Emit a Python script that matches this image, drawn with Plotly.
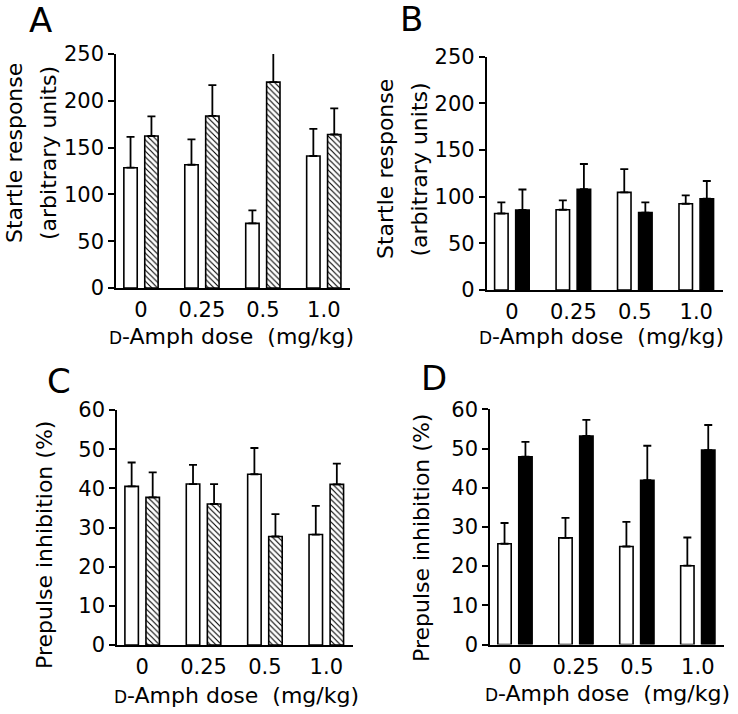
import plotly.graph_objects as go

W, H = 738, 714
FONT = "DejaVu Sans"

doses = ["0", "0.25", "0.5", "1.0"]

# Panel A: startle, saline (white) vs drug (hatched)
a_white = [128.5, 131.7, 69, 141]
a_white_err = [33, 27, 14, 29]
a_hatch = [162.4, 183.8, 220, 164]
a_hatch_err = [21, 33, 48, 28]

# Panel B: startle, white vs black
b_white = [82, 86, 104.6, 92.4]
b_white_err = [12, 10, 25, 9]
b_black = [85.7, 108, 83, 97.8]
b_black_err = [22, 27, 11, 19]

# Panel C: PPI, white vs hatched
c_white = [40.5, 41.1, 43.6, 28.2]
c_white_err = [6.1, 4.9, 6.7, 7.3]
c_hatch = [37.7, 36, 27.7, 41]
c_hatch_err = [6.4, 5.1, 5.7, 5.3]

# Panel D: PPI, white vs black
d_white = [25.7, 27.2, 25, 20.1]
d_white_err = [5.3, 5.1, 6.3, 7.2]
d_black = [47.9, 53.2, 41.9, 49.6]
d_black_err = [3.8, 4.1, 8.8, 6.4]

startle_ticks = [0, 50, 100, 150, 200, 250]
ppi_ticks = [0, 10, 20, 30, 40, 50, 60]

panels = [
    dict(letter="A", white=a_white, werr=a_white_err, second=a_hatch, serr=a_hatch_err, kind="hatch",
         dom_x=(116, 350), dom_y=(54, 288), yr=(0, 250), ticks=startle_ticks,
         ytitle=["Startle response", "(arbitrary units)"], yt_x=[14, 48], yt_y=153,
         xt_x=231, xt_y=336, let_xy=(40.5, 19.5)),
    dict(letter="B", white=b_white, werr=b_white_err, second=b_black, serr=b_black_err, kind="black",
         dom_x=(486.7, 722.7), dom_y=(56.7, 290), yr=(0, 250), ticks=startle_ticks,
         ytitle=["Startle response", "(arbitrary units)"], yt_x=[385, 418.5], yt_y=169,
         xt_x=601, xt_y=336, let_xy=(411.5, 19)),
    dict(letter="C", white=c_white, werr=c_white_err, second=c_hatch, serr=c_hatch_err, kind="hatch",
         dom_x=(117, 352.7), dom_y=(410, 645), yr=(0, 60), ticks=ppi_ticks,
         ytitle=["Prepulse inhibition (%)"], yt_x=[44], yt_y=545,
         xt_x=236, xt_y=695, let_xy=(58.5, 380.5)),
    dict(letter="D", white=d_white, werr=d_white_err, second=d_black, serr=d_black_err, kind="black",
         dom_x=(490, 724), dom_y=(409.3, 644.5), yr=(0, 60), ticks=ppi_ticks,
         ytitle=["Prepulse inhibition (%)"], yt_x=[421.5], yt_y=538.5,
         xt_x=607.5, xt_y=693, let_xy=(434, 377.5)),
]

fig = go.Figure()
annotations = []
LW = 1.6

def px(x):
    return x / W

def py(y):
    return 1 - y / H

for i, p in enumerate(panels):
    n = "" if i == 0 else str(i + 1)
    xa, ya = "x" + n, "y" + n
    err_style = dict(type="data", symmetric=False, thickness=1.8, width=4, color="black")
    fig.add_trace(go.Bar(
        x=doses, y=p["white"], xaxis=xa, yaxis=ya,
        marker=dict(color="white", line=dict(color="black", width=LW)),
        error_y=dict(array=p["werr"], arrayminus=[0] * 4, **err_style),
        offsetgroup="w", showlegend=False, cliponaxis=False,
    ))
    if p["kind"] == "hatch":
        mk = dict(color="white", line=dict(color="black", width=LW),
                  pattern=dict(shape="\\", fgcolor="black", bgcolor="white", size=4, solidity=0.28))
    else:
        mk = dict(color="black", line=dict(color="black", width=LW))
    fig.add_trace(go.Bar(
        x=doses, y=p["second"], xaxis=xa, yaxis=ya, marker=mk,
        error_y=dict(array=p["serr"], arrayminus=[0] * 4, **err_style),
        offsetgroup="s", showlegend=False, cliponaxis=False,
    ))
    fig.update_layout(**{
        "xaxis" + n: dict(
            domain=[px(p["dom_x"][0]), px(p["dom_x"][1])], anchor=ya, type="category",
            range=[-0.41, 3.43], showline=True, linecolor="black", linewidth=LW,
            ticks="outside", ticklen=2, tickcolor="rgba(0,0,0,0)", automargin=False,
            tickfont=dict(family=FONT, size=21, color="black"), showgrid=False, zeroline=False,
        ),
        "yaxis" + n: dict(
            domain=[py(p["dom_y"][1]), py(p["dom_y"][0])], anchor=xa, automargin=False,
            range=list(p["yr"]), tickvals=p["ticks"], showline=True, linecolor="black",
            linewidth=LW, ticks="outside", ticklen=6, tickwidth=LW, tickcolor="black",
            tickfont=dict(family=FONT, size=21, color="black"), showgrid=False, zeroline=False,
        ),
    })
    annotations.append(dict(text=p["letter"], x=px(p["let_xy"][0]), y=py(p["let_xy"][1]),
                            xref="paper", yref="paper", xanchor="center", yanchor="middle",
                            showarrow=False, font=dict(family=FONT, size=34, color="black")))
    for t, tx in zip(p["ytitle"], p["yt_x"]):
        annotations.append(dict(text=t, x=px(tx), y=py(p["yt_y"]), xref="paper", yref="paper",
                                xanchor="center", yanchor="middle", textangle=-90, showarrow=False,
                                font=dict(family=FONT, size=22, color="black")))
    annotations.append(dict(
        text='<span style="font-size:17px">D</span>-Amph dose\u00a0\u00a0(mg/kg)',
        x=px(p["xt_x"]), y=py(p["xt_y"]), xref="paper", yref="paper",
        xanchor="center", yanchor="middle", showarrow=False,
        font=dict(family=FONT, size=22, color="black")))

fig.update_layout(
    template="none",
    width=W, height=H, margin=dict(l=0, r=0, t=0, b=0, pad=0, autoexpand=False),
    paper_bgcolor="white", plot_bgcolor="white",
    barmode="group", bargap=0.314, bargroupgap=0.36,
    annotations=annotations, showlegend=False,
)

# place the figure at the page's top-left corner (no default body margin), no modebar
fig.write_html("out.html", config={"displayModeBar": False},
               post_script="document.body.style.margin='0';")
